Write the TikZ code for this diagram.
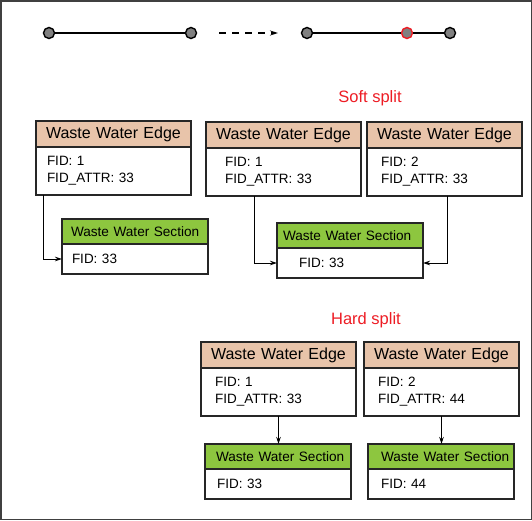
\documentclass[tikz,border=0pt]{standalone}
\usepackage{fontspec}
\setmainfont{Liberation Sans}
\usetikzlibrary{positioning,arrows.meta}
\definecolor{edgetan}{RGB}{232,196,170}
\definecolor{sectgreen}{RGB}{141,198,63}
\definecolor{splitred}{RGB}{237,28,36}
\definecolor{dotgray}{RGB}{128,128,128}
\newcommand{\wwsect}{\mbox{Waste Water Section}}
\tikzset{
  box/.style={draw=black!85, line width=1.2pt, outer sep=0pt, anchor=north west, align=left, inner ysep=0pt},
  ehead/.style={box, fill=edgetan, minimum height=26pt, inner xsep=10pt, text width=135pt, font=\fontsize{16}{16}\selectfont},
  ebody/.style={box, fill=white, minimum height=48pt, inner xsep=14pt, text width=127pt, font=\fontsize{13.5}{17}\selectfont},
  shead/.style={box, fill=sectgreen, minimum height=25pt, inner xsep=9pt, text width=128pt, font=\fontsize{13.6}{14}\selectfont},
  sbody/.style={box, fill=white, minimum height=30pt, inner xsep=12pt, text width=122pt, font=\fontsize{13.5}{17}\selectfont},
  vertex/.style={circle, draw=black, fill=dotgray, line width=1.4pt, minimum size=11pt, inner sep=0pt},
  link/.style={-{Stealth[length=7pt,width=4.5pt]}, line width=0.9pt},
  splitlabel/.style={text=splitred, font=\fontsize{16.5}{17}\selectfont}
}
\begin{document}
\begin{tikzpicture}[x=1pt,y=-1pt]
  \useasboundingbox (0,0) rectangle (532,520);
  \draw[draw=black!75, line width=1.5pt] (0.75,0.75) rectangle (531.25,519.25);

  % top row: edge before and after the split
  \node[vertex] (p1) at (49,33) {};
  \node[vertex] (p2) at (191,33) {};
  \node[vertex] (q1) at (307,33) {};
  \node[vertex, draw=splitred] (q2) at (407,33) {};
  \node[vertex] (q3) at (450,33) {};
  \draw[line width=1.2pt] (p1) -- (p2);
  \draw[line width=1.2pt] (q1) -- (q2);
  \draw[line width=1.2pt] (q2) -- (q3);
  \coordinate (d1) at (219,33);
  \coordinate (d2) at (278,33);
  \draw[line width=1.2pt, dash pattern=on 7pt off 6pt, -{Stealth[length=8pt,width=5pt]}] (d1) -- (d2);

  \node[splitlabel] (soft) at (370,98) {Soft split};
  \node[splitlabel] (hard) at (366,320) {Hard split};

  % soft split
  \node[ehead] (eLh) at (36,121) {Waste Water Edge};
  \node[ebody, below=0pt of eLh, inner xsep=11pt, text width=133pt] (eLb) {FID: 1\\FID\_ATTR: 33};
  \node[shead] (sLh) at (62,219) {\wwsect};
  \node[sbody, below=0pt of sLh, inner xsep=10pt, text width=126pt] (sLb) {FID: 33};
  \draw[link] ([xshift=7pt]eLb.south west) |- (sLb.west);

  \node[ehead] (eMh) at (206,122) {Waste Water Edge};
  \node[ebody, below=0pt of eMh, inner xsep=19pt, text width=117pt] (eMb) {FID: 1\\FID\_ATTR: 33};
  \node[ehead] (eRh) at (367,122) {Waste Water Edge};
  \node[ebody, below=0pt of eRh] (eRb) {FID: 2\\FID\_ATTR: 33};
  \node[shead, inner xsep=6pt, text width=134pt] (sMh) at (277,223) {\wwsect};
  \node[sbody, below=0pt of sMh, inner xsep=22pt, text width=102pt] (sMb) {FID: 33};
  \draw[link] ([xshift=48pt]eMb.south west) |- (sMb.west);
  \draw[link] ([xshift=80pt]eRb.south west) |- (sMb.east);

  % hard split
  \node[ehead] (hAh) at (201,342) {Waste Water Edge};
  \node[ebody, below=0pt of hAh] (hAb) {FID: 1\\FID\_ATTR: 33};
  \node[ehead] (hBh) at (364,342) {Waste Water Edge};
  \node[ebody, below=0pt of hBh] (hBb) {FID: 2\\FID\_ATTR: 44};
  \node[shead, inner xsep=11pt, text width=124pt] (hAs) at (205,444) {\wwsect};
  \node[sbody, below=0pt of hAs] (hAt) {FID: 33};
  \node[shead, inner xsep=13pt, text width=120pt] (hBs) at (368,444) {\wwsect};
  \node[sbody, below=0pt of hBs, inner xsep=13pt, text width=120pt] (hBt) {FID: 44};
  \draw[link] (hAb.south) -- (hAb.south |- hAs.north);
  \draw[link] (hBb.south) -- (hBb.south |- hBs.north);
\end{tikzpicture}
\end{document}
